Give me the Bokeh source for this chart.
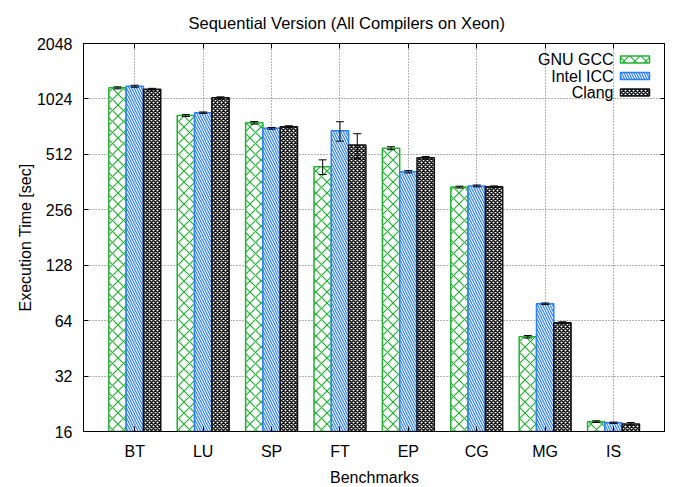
from bokeh.plotting import figure
from bokeh.models import (ColumnDataSource, FixedTicker, Whisker, TeeHead, LinearAxis,
                          LogAxis, Label, BoxAnnotation, Range1d)
from bokeh.embed import file_html
from bokeh.resources import INLINE

benchmarks = ["BT", "LU", "SP", "FT", "EP", "CG", "MG", "IS"]
series_names = ["GNU GCC", "Intel ICC", "Clang"]
gcc = [1176, 832, 760, 438, 553, 340, 52.3, 18.1]
icc = [1200, 862, 709, 687, 412, 345, 79.0, 17.85]
clang = [1157, 1039, 722, 575, 490, 341, 62.3, 17.6]
gcc_err = [15, 10, 12, 40, 10, 4, 0.8, 0.2]
icc_err = [15, 8, 8, 83, 6, 4, 0.8, 0.15]
clang_err = [12, 12, 10, 88, 8, 4, 0.8, 0.3]
y_ticks = [16, 32, 64, 128, 256, 512, 1024, 2048]

FONT = "Liberation Sans"
FS = "16px"
colors = ["#22b033", "#2a7fff", "#111111"]
hatches = ["x", "\\", "x"]
hatch_scales = [11, 5, 4]
hatch_weights = [1.2, 1.2, 1.5]
bar_w = 0.253
offsets = [-bar_w, 0.0, bar_w]

p = figure(frame_width=582, frame_height=388, y_axis_type="log",
           x_range=Range1d(-0.75, 7.76), y_range=Range1d(16, 2048),
           output_backend="svg", toolbar_location=None,
           min_border_left=0, min_border_right=0, min_border_top=0,
           min_border_bottom=0)
p.margin = (0, 0, 0, 13)
p.title.text = "Sequential Version (All Compilers on Xeon)"
p.title.align = "left"
p.title.offset = 105
p.title.text_font = FONT
p.title.text_font_size = "16.5px"
p.title.text_font_style = "normal"
p.title.text_color = "black"
p.title.standoff = 23

p.outline_line_color = "black"
p.outline_line_width = 1

for k, (vals, errs) in enumerate(zip([gcc, icc, clang], [gcc_err, icc_err, clang_err])):
    xs = [i + offsets[k] for i in range(len(benchmarks))]
    src = ColumnDataSource(dict(x=xs, top=vals,
                                lower=[v - e for v, e in zip(vals, errs)],
                                upper=[v + e for v, e in zip(vals, errs)]))
    p.vbar(x="x", top="top", bottom=16, width=bar_w, source=src,
           fill_color="white", line_color=colors[k], line_width=1.5,
           hatch_pattern=hatches[k], hatch_color=colors[k],
           hatch_scale=hatch_scales[k], hatch_weight=hatch_weights[k])
    p.add_layout(Whisker(source=src, base="x", lower="lower", upper="upper",
                         line_color="black", line_width=1, level="overlay",
                         lower_head=TeeHead(size=8, line_color="black", line_width=1),
                         upper_head=TeeHead(size=8, line_color="black", line_width=1)))

xticker = FixedTicker(ticks=list(range(len(benchmarks))))
yticker = FixedTicker(ticks=y_ticks)

p.xaxis.ticker = xticker
p.xaxis.major_label_overrides = {i: b for i, b in enumerate(benchmarks)}
p.yaxis.ticker = yticker
p.yaxis.major_label_overrides = {t: str(t) for t in y_ticks}
p.xaxis.axis_label = "Benchmarks"
p.yaxis.axis_label = "Execution Time [sec]"

for ax in [p.xaxis[0], p.yaxis[0]]:
    ax.major_tick_in = 5
    ax.major_tick_out = 0
    ax.minor_tick_line_color = None
    ax.axis_line_color = "black"
    ax.major_tick_line_color = "black"
    ax.major_label_text_font = FONT
    ax.major_label_text_font_size = FS
    ax.major_label_text_color = "black"
    ax.axis_label_text_font = FONT
    ax.axis_label_text_font_size = FS
    ax.axis_label_text_font_style = "normal"
    ax.axis_label_text_color = "black"
    ax.major_label_standoff = 11
p.xaxis.axis_label_standoff = 6
p.yaxis.axis_label_standoff = 0

top_ax = LinearAxis(ticker=xticker, major_tick_in=5, major_tick_out=0,
                    minor_tick_line_color=None, major_label_text_font_size="0px",
                    major_label_text_color=None,
                    major_label_standoff=0, axis_line_color="black")
right_ax = LogAxis(ticker=yticker, major_tick_in=5, major_tick_out=0,
                   minor_tick_line_color=None, major_label_text_font_size="0px",
                   major_label_text_color=None,
                   major_label_standoff=0, axis_line_color="black")
p.add_layout(top_ax, "above")
p.add_layout(right_ax, "right")

p.xgrid.ticker = xticker
p.ygrid.ticker = yticker
for g in [p.xgrid[0], p.ygrid[0]]:
    g.grid_line_color = "#666666"
    g.grid_line_dash = "1 2"
    g.grid_line_width = 1

# legend (gnuplot style: label right-aligned, sample box on the right)
leg_text_right = 530
leg_box_left = 537
leg_box_right = 566
leg_y0 = 372
leg_step = 16.5
for k, name in enumerate(series_names):
    yc = leg_y0 - k * leg_step
    p.add_layout(Label(x=leg_text_right, y=yc, x_units="screen", y_units="screen",
                       text=name, text_align="right", text_baseline="middle",
                       text_font=FONT, text_font_size=FS, text_color="black"))
    p.add_layout(BoxAnnotation(left=leg_box_left, right=leg_box_right,
                               bottom=yc - 3.5, top=yc + 3.5,
                               left_units="screen", right_units="screen",
                               bottom_units="screen", top_units="screen",
                               fill_color="white", fill_alpha=1,
                               line_color=colors[k], line_width=1.5, line_alpha=1,
                               hatch_pattern=hatches[k], hatch_color=colors[k],
                               hatch_scale=hatch_scales[k], hatch_weight=hatch_weights[k],
                               level="overlay"))

open("out.html", "w").write(file_html(p, INLINE))
